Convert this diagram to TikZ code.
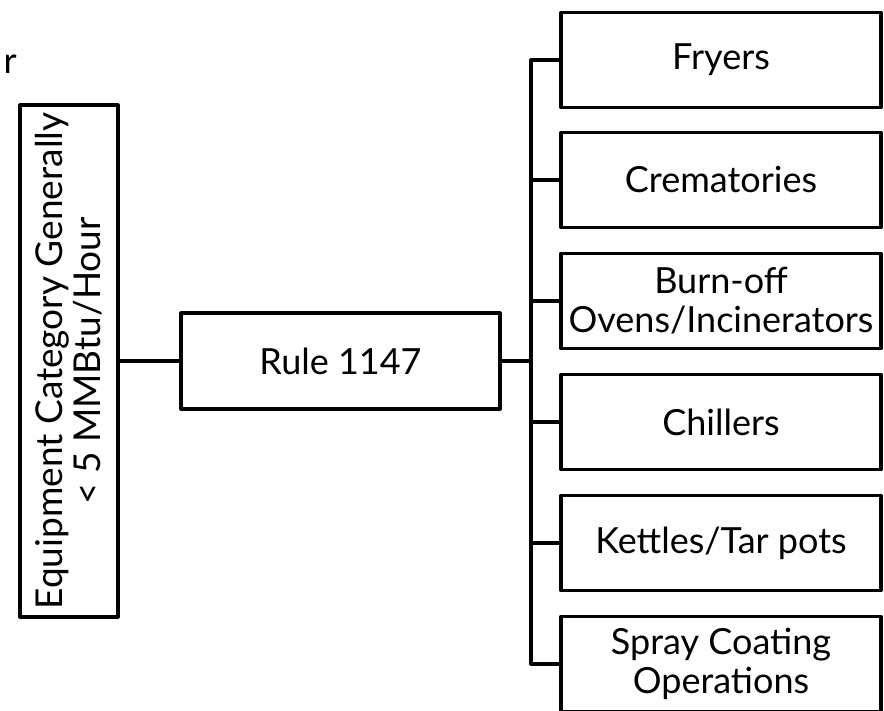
\documentclass[tikz,border=0pt]{standalone}
\usepackage{fontspec}
\setmainfont{Lato}
\begin{document}
\begin{tikzpicture}[x=1pt,y=-1pt,line join = round,line width=3.2pt,
	box/.style={draw,align=center,inner sep=0pt,minimum width=320pt,minimum height=95pt,
		font=\fontsize{36}{39}\selectfont}]
	\useasboundingbox (0,0) rectangle (884,710);
	\node[anchor=base west,inner sep=0pt,font=\fontsize{36}{39}\selectfont] (frag) at (2,73) {r};
	\node[box,rotate=90,minimum width=512pt,minimum height=98pt,font=\fontsize{37}{38}\selectfont] (eq) at (69,361) {Equipment Category Generally\\\textless{} 5 MMBtu/Hour};
	\node[box,minimum width=319pt,minimum height=96pt] (rule) at (340.5,361) {Rule 1147};
	\node[box] (b1) at (721,60) {Fryers};
	\node[box] (b2) at (721,180) {Crematories};
	\node[box] (b3) at (721,301) {Burn-off\\Ovens/Incinerators};
	\node[box] (b4) at (721,422) {Chillers};
	\node[box] (b5) at (721,543) {Kettles/Tar pots};
	\node[box] (b6) at (721,664) {Spray Coating\\Operations};
	\coordinate (bus) at (531,361);
	\draw (eq.south) -- (rule.west);
	\draw (rule.east) -- (bus);
	\draw (b1.west) -- (b1.west -| bus) -- (b6.west -| bus) -- (b6.west);
	\foreach \i in {2,...,5}
		\draw (b\i.west) -- (b\i.west -| bus);
\end{tikzpicture}
\end{document}
